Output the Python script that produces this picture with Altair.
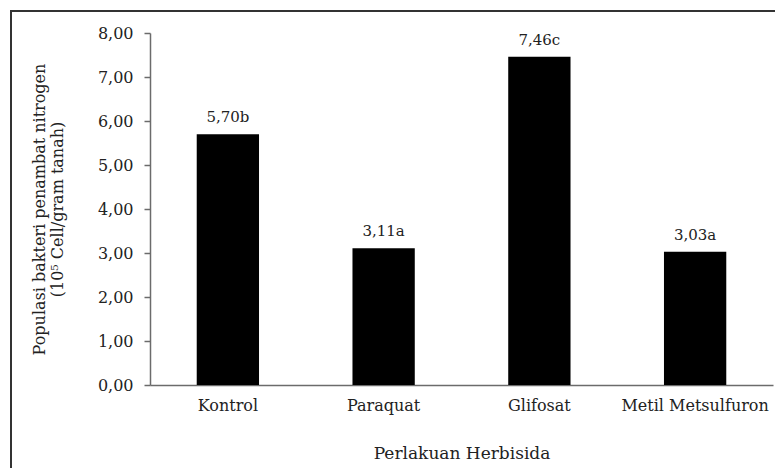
import altair as alt
import pandas as pd

categories = ["Kontrol", "Paraquat", "Glifosat", "Metil Metsulfuron"]
values = [5.70, 3.11, 7.46, 3.03]
letters = ["b", "a", "c", "a"]
y_ticks = [0, 1, 2, 3, 4, 5, 6, 7, 8]

labels = [f"{v:.2f}".replace(".", ",") + l for v, l in zip(values, letters)]
df = pd.DataFrame({"cat": categories, "val": values, "lab": labels})

FONT = "DejaVu Serif"
TXT = "#222222"
AX = "#6b6b6b"

x = alt.X("cat:N", sort=categories,
          scale=alt.Scale(paddingInner=0.6, paddingOuter=0.3),
          axis=alt.Axis(title="Perlakuan Herbisida", labelAngle=0, ticks=False,
                        labelPadding=12, titlePadding=32, labelFontSize=16,
                        titleFontSize=17, labelFont=FONT, titleFont=FONT,
                        labelColor=TXT, titleColor=TXT, titleFontWeight="normal",
                        domainColor=AX, domainWidth=1.5))
y = alt.Y("val:Q", scale=alt.Scale(domain=[0, 8], nice=False),
          axis=alt.Axis(title=["Populasi bakteri penambat nitrogen", "(10⁵ Cell/gram tanah)"],
                        values=y_ticks, grid=False, tickSize=6, tickColor=AX, tickWidth=1.5,
                        labelExpr="replace(format(datum.value, '.2f'), '.', ',')",
                        labelPadding=11, titlePadding=32, labelFontSize=16,
                        titleFontSize=16, titleLineHeight=18, labelFont=FONT, titleFont=FONT,
                        labelColor=TXT, titleColor=TXT, titleFontWeight="normal",
                        domainColor=AX, domainWidth=1.5))

bars = alt.Chart(df).mark_bar(color="black").encode(x=x, y=y)
text = alt.Chart(df).mark_text(baseline="bottom", dy=-9, fontSize=15, font=FONT,
                               color=TXT).encode(x=alt.X("cat:N", sort=categories),
                                                 y="val:Q", text="lab:N")
edge = pd.DataFrame({"a": [0]})
frame = alt.Chart(edge).mark_rect(fill="transparent", stroke="#333333", strokeWidth=2,
                                  clip=False).encode(
    x=alt.value(-139), x2=alt.value(700), y=alt.value(-22), y2=alt.value(700))

chart = alt.layer(frame, bars, text).properties(
    width=623, height=352,
    autosize=alt.AutoSizeParams(type="none"),
    padding={"left": 142, "top": 25, "right": 2, "bottom": 83},
).configure_view(stroke=None)

chart.save("out.html", embed_options={"renderer": "svg", "actions": False})
